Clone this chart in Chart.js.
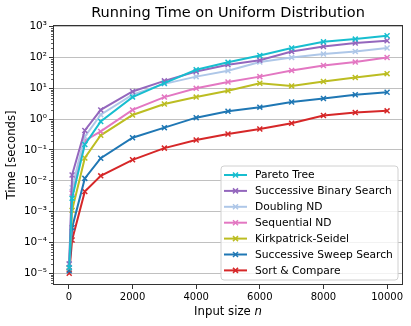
<!DOCTYPE html>
<html>
<head>
<meta charset="utf-8">
<script src="https://cdn.jsdelivr.net/npm/chart.js@4.4.1/dist/chart.umd.min.js"></script>
<style>
  html, body { margin: 0; padding: 0; background: #fff; }
  #box { width: 411px; height: 326px; }
</style>
</head>
<body>
<div id="box"><canvas id="myChart" width="411" height="326"></canvas></div>
<script>
// input sizes
var sizes = [10, 100, 500, 1000, 2000, 3000, 4000, 5000, 6000, 7000, 8000, 9000, 10000];

// running times in seconds
var paretoTree = [1.5e-5, 0.0027, 0.15, 0.84, 5.2, 14.7, 40, 70, 116, 203, 323, 396, 510];
var successiveBinary = [2e-5, 0.0155, 0.43, 2.0, 7.9, 17.5, 35, 58, 82, 156, 228, 294, 350];
var doublingND = [2e-5, 0.006, 0.27, 1.4, 6.2, 14, 24, 37, 71, 100, 129, 156, 203];
var sequentialND = [1.5e-5, 0.004, 0.2, 0.4, 2.0, 5.2, 10, 16, 24, 38, 55, 71, 100];
var kirkpatrick = [1.5e-5, 0.0011, 0.055, 0.3, 1.37, 3.1, 5.2, 8.3, 14.7, 12, 16.6, 22.5, 30];
var successiveSweep = [1.2e-5, 3e-4, 0.012, 0.054, 0.25, 0.53, 1.12, 1.8, 2.45, 3.6, 4.7, 6.2, 7.5];
var sortCompare = [1e-5, 1.2e-4, 0.0045, 0.0145, 0.048, 0.115, 0.21, 0.33, 0.48, 0.74, 1.31, 1.64, 1.86];

var seriesNames = ['Pareto Tree', 'Successive Binary Search', 'Doubling ND', 'Sequential ND',
                   'Kirkpatrick-Seidel', 'Successive Sweep Search', 'Sort & Compare'];
var seriesValues = [paretoTree, successiveBinary, doublingND, sequentialND, kirkpatrick, successiveSweep, sortCompare];
var seriesColors = ['#17becf', '#9467bd', '#aec7e8', '#e377c2', '#bcbd22', '#1f77b4', '#d62728'];

var xTicks = [0, 2000, 4000, 6000, 8000, 10000];
var yTicks = [1e-5, 1e-4, 1e-3, 1e-2, 1e-1, 1e0, 1e1, 1e2, 1e3];

var FONT = "'DejaVu Sans', sans-serif";
var sup = { '-': '\u207b', '0': '\u2070', '1': '\u00b9', '2': '\u00b2', '3': '\u00b3',
            '4': '\u2074', '5': '\u2075', '6': '\u2076', '7': '\u2077', '8': '\u2078', '9': '\u2079' };

function powerLabel(v) {
    var e = String(Math.round(Math.log10(v)));
    var s = '';
    for (var i = 0; i < e.length; i++) s += sup[e[i]];
    return '10' + s;
}

var datasets = [];
for (var i = 0; i < seriesNames.length; i++) {
    var pts = [];
    for (var j = 0; j < sizes.length; j++) {
        pts.push({ x: sizes[j], y: seriesValues[i][j] });
    }
    datasets.push({
        label: seriesNames[i],
        data: pts,
        borderColor: seriesColors[i],
        backgroundColor: seriesColors[i],
        borderWidth: 2,
        pointStyle: 'crossRot',
        pointRadius: 3.5,
        pointBorderWidth: 1.5,
        pointHoverRadius: 3.5,
        tension: 0,
        fill: false
    });
}

// title, axis labels, frame, minor ticks, legend
var extras = {
    id: 'extras',
    afterDraw: function (chart) {
        var ctx = chart.ctx;
        var a = chart.chartArea;
        var ys = chart.scales.y;
        ctx.save();

        // minor ticks on the log axis
        ctx.strokeStyle = '#333';
        ctx.lineWidth = 0.8;
        for (var e = -6; e <= 3; e++) {
            for (var m = 2; m <= 9; m++) {
                var v = m * Math.pow(10, e);
                if (v < ys.min || v > ys.max) continue;
                var py = Math.round(ys.getPixelForValue(v)) + 0.5;
                ctx.beginPath();
                ctx.moveTo(a.left, py);
                ctx.lineTo(a.left - 2, py);
                ctx.stroke();
            }
        }

        // frame
        ctx.strokeStyle = '#333';
        ctx.lineWidth = 1;
        ctx.strokeRect(a.left + 0.5, a.top + 0.5, a.right - a.left - 1, a.bottom - a.top - 1);

        // title
        ctx.fillStyle = '#000';
        ctx.textAlign = 'center';
        ctx.textBaseline = 'middle';
        ctx.font = '14.5px ' + FONT;
        ctx.fillText('Running Time on Uniform Distribution', (a.left + a.right) / 2, 13);

        // x label
        ctx.font = '11.7px ' + FONT;
        var t1 = 'Input size ';
        var w1 = ctx.measureText(t1).width;
        ctx.font = 'italic 11.7px ' + FONT;
        var w2 = ctx.measureText('n').width;
        var x0 = (a.left + a.right) / 2 - (w1 + w2) / 2;
        ctx.textAlign = 'left';
        ctx.font = '11.7px ' + FONT;
        ctx.fillText(t1, x0, 312);
        ctx.font = 'italic 11.7px ' + FONT;
        ctx.fillText('n', x0 + w1, 312);

        // y label
        ctx.save();
        ctx.translate(12, (a.top + a.bottom) / 2);
        ctx.rotate(-Math.PI / 2);
        ctx.textAlign = 'center';
        ctx.font = '11.7px ' + FONT;
        ctx.fillText('Time [seconds]', 0, 0);
        ctx.restore();

        // legend
        var lx = 221, ly = 166, lw = 177, lh = 114, r = 3;
        ctx.fillStyle = 'rgba(255,255,255,0.8)';
        ctx.strokeStyle = '#d0d0d0';
        ctx.lineWidth = 1;
        ctx.beginPath();
        ctx.moveTo(lx + r, ly);
        ctx.arcTo(lx + lw, ly, lx + lw, ly + lh, r);
        ctx.arcTo(lx + lw, ly + lh, lx, ly + lh, r);
        ctx.arcTo(lx, ly + lh, lx, ly, r);
        ctx.arcTo(lx, ly, lx + lw, ly, r);
        ctx.closePath();
        ctx.fill();
        ctx.stroke();

        ctx.font = '10.7px ' + FONT;
        ctx.textAlign = 'left';
        ctx.textBaseline = 'middle';
        chart.data.datasets.forEach(function (ds, k) {
            var cy = 175 + k * 15.9;
            ctx.strokeStyle = ds.borderColor;
            ctx.lineWidth = 2;
            ctx.beginPath();
            ctx.moveTo(224, cy);
            ctx.lineTo(247, cy);
            ctx.stroke();
            ctx.lineWidth = 1.5;
            ctx.beginPath();
            ctx.moveTo(235.5 - 2.5, cy - 2.5);
            ctx.lineTo(235.5 + 2.5, cy + 2.5);
            ctx.moveTo(235.5 - 2.5, cy + 2.5);
            ctx.lineTo(235.5 + 2.5, cy - 2.5);
            ctx.stroke();
            ctx.fillStyle = '#000';
            ctx.fillText(ds.label, 255, cy + 0.5);
        });

        ctx.restore();
    }
};

var ctx = document.getElementById('myChart');
var chart = new Chart(ctx, {
    type: 'line',
    data: { datasets: datasets },
    options: {
        responsive: false,
        animation: false,
        events: [],
        layout: { padding: { top: 25, right: 8, bottom: 0, left: 0 } },
        plugins: {
            legend: { display: false },
            title: { display: false },
            tooltip: { enabled: false }
        },
        scales: {
            x: {
                type: 'linear',
                min: -500,
                max: 10500,
                afterBuildTicks: function (scale) {
                    scale.ticks = xTicks.map(function (v) { return { value: v }; });
                },
                afterFit: function (scale) { scale.height = 41; },
                grid: { display: true, drawOnChartArea: false, drawTicks: true, tickLength: 4, tickColor: '#333' },
                border: { display: false },
                ticks: {
                    color: '#000',
                    font: { family: FONT, size: 10 },
                    padding: 2,
                    maxRotation: 0,
                    autoSkip: false,
                    callback: function (v) { return String(v); }
                }
            },
            y: {
                type: 'logarithmic',
                min: 4.17e-6,
                max: 1135,
                afterBuildTicks: function (scale) {
                    scale.ticks = yTicks.map(function (v) { return { value: v }; });
                },
                afterFit: function (scale) { scale.width = 53; },
                grid: { color: 'rgba(176,176,176,0.8)', lineWidth: 1, tickLength: 4, tickColor: '#333' },
                border: { display: false },
                ticks: {
                    color: '#000',
                    font: { family: FONT, size: 10.5 },
                    padding: 2,
                    autoSkip: false,
                    callback: function (v) { return powerLabel(v); }
                }
            }
        }
    },
    plugins: [extras]
});
</script>
</body>
</html>
